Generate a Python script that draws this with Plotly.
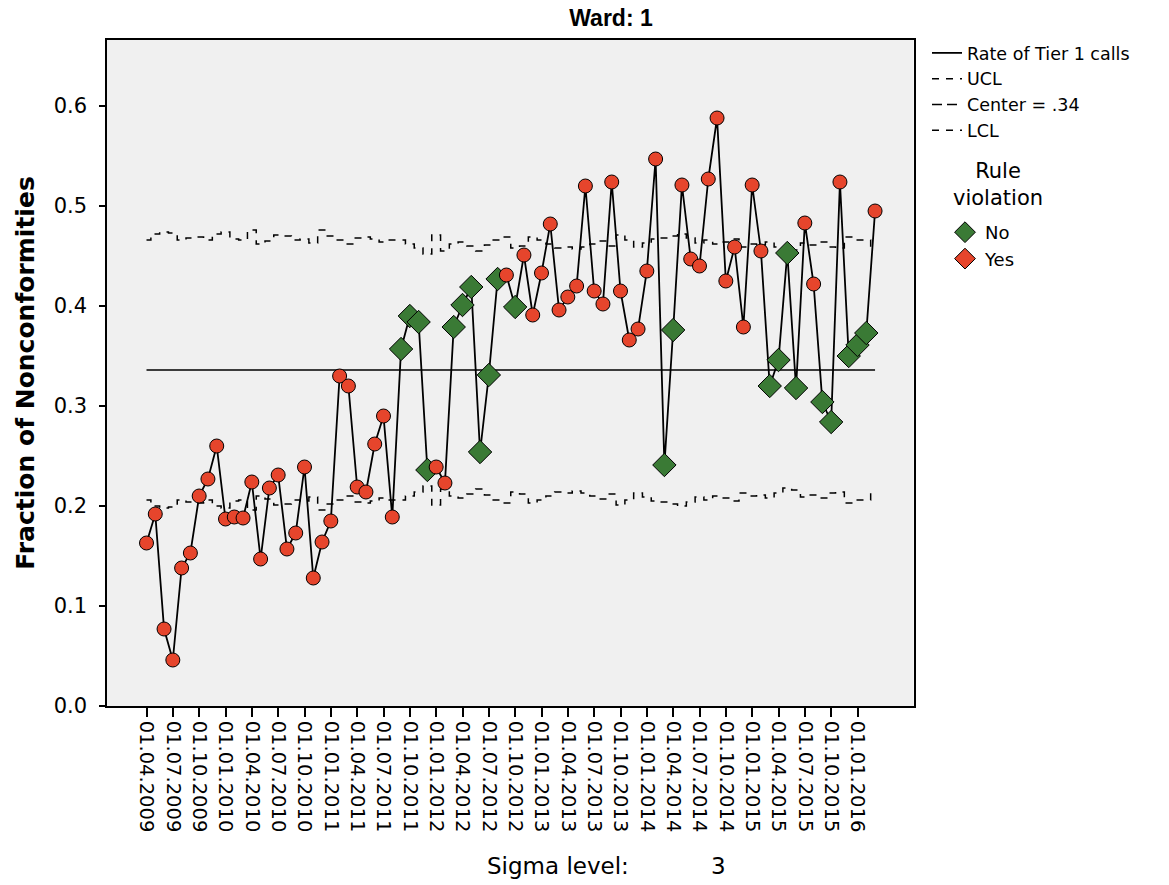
import plotly.graph_objects as go

# ---- data ----
months = []
for yr in range(2009, 2017):
    for mo in range(1, 13):
        months.append(f"01.{mo:02d}.{yr}")
dates = months[3:3 + 84]  # 01.04.2009 .. 01.03.2016

rate = [0.163, 0.192, 0.077, 0.046, 0.138, 0.153, 0.210, 0.227, 0.260, 0.187,
        0.189, 0.188, 0.224, 0.147, 0.218, 0.231, 0.157, 0.173, 0.239, 0.128,
        0.164, 0.185, 0.330, 0.320, 0.219, 0.214, 0.262, 0.290, 0.189, 0.357,
        0.390, 0.384, 0.236, 0.239, 0.223, 0.379, 0.401, 0.419, 0.254, 0.331,
        0.427, 0.431, 0.399, 0.451, 0.391, 0.433, 0.482, 0.396, 0.409, 0.420,
        0.520, 0.415, 0.402, 0.524, 0.415, 0.366, 0.377, 0.435, 0.547, 0.241,
        0.376, 0.521, 0.447, 0.440, 0.527, 0.588, 0.425, 0.459, 0.379, 0.521,
        0.455, 0.320, 0.346, 0.453, 0.318, 0.483, 0.422, 0.304, 0.284, 0.524,
        0.350, 0.361, 0.373, 0.495]

violation = (["Yes"] * 29
             + ["No", "No", "No", "No", "Yes", "Yes", "No", "No", "No", "No",
                "No", "No", "Yes", "No", "Yes", "Yes"]
             + ["Yes"] * 14
             + ["No", "No"]
             + ["Yes"] * 10
             + ["No", "No", "No", "No", "Yes", "Yes", "No", "No", "Yes",
                "No", "No", "No", "Yes"])

ucl = [0.466, 0.472, 0.474, 0.473, 0.466, 0.468, 0.469, 0.466, 0.472, 0.474,
       0.467, 0.466, 0.476, 0.462, 0.465, 0.471, 0.470, 0.466, 0.467, 0.463,
       0.476, 0.470, 0.466, 0.462, 0.468, 0.469, 0.467, 0.464, 0.466, 0.466,
       0.462, 0.458, 0.452, 0.471, 0.455, 0.462, 0.464, 0.460, 0.455, 0.461,
       0.466, 0.469, 0.458, 0.460, 0.469, 0.466, 0.462, 0.458, 0.459, 0.457,
       0.459, 0.462, 0.465, 0.460, 0.471, 0.466, 0.459, 0.463, 0.467, 0.468,
       0.470, 0.472, 0.468, 0.463, 0.466, 0.462, 0.464, 0.467, 0.459, 0.462,
       0.461, 0.464, 0.459, 0.454, 0.456, 0.463, 0.461, 0.464, 0.459, 0.458,
       0.469, 0.466, 0.466, 0.459]

lcl = [0.206, 0.200, 0.198, 0.199, 0.206, 0.204, 0.203, 0.206, 0.200, 0.198,
       0.205, 0.206, 0.196, 0.210, 0.207, 0.201, 0.202, 0.206, 0.205, 0.209,
       0.196, 0.202, 0.206, 0.210, 0.204, 0.203, 0.205, 0.208, 0.206, 0.206,
       0.210, 0.214, 0.220, 0.201, 0.217, 0.210, 0.208, 0.212, 0.217, 0.211,
       0.206, 0.203, 0.214, 0.212, 0.203, 0.206, 0.210, 0.214, 0.213, 0.215,
       0.213, 0.210, 0.207, 0.212, 0.201, 0.206, 0.213, 0.209, 0.205, 0.204,
       0.202, 0.200, 0.204, 0.209, 0.206, 0.210, 0.208, 0.205, 0.213, 0.210,
       0.211, 0.208, 0.213, 0.218, 0.216, 0.209, 0.211, 0.208, 0.213, 0.214,
       0.203, 0.206, 0.206, 0.213]

center = 0.336
center_label = "Center = .34"
tick_labels = dates[0::3]
y_ticks = [0.0, 0.1, 0.2, 0.3, 0.4, 0.5, 0.6]

RED = "#e6452c"
GREEN = "#3a7a35"
FONT = "DejaVu Sans"

fig = go.Figure()

# control limits (step lines)
fig.add_trace(go.Scatter(x=dates, y=ucl, mode="lines", name="UCL",
                         line=dict(color="black", width=1.5, dash="7px,7px", shape="hvh"),
                         legendrank=2, legend="legend", hoverinfo="skip"))
fig.add_trace(go.Scatter(x=dates, y=lcl, mode="lines", name="LCL",
                         line=dict(color="black", width=1.5, dash="7px,7px", shape="hvh"),
                         legendrank=4, legend="legend", hoverinfo="skip"))
# center line
fig.add_trace(go.Scatter(x=[dates[0], dates[-1]], y=[center, center], mode="lines",
                         line=dict(color="black", width=1.5), showlegend=False))
fig.add_trace(go.Scatter(x=[None], y=[None], mode="lines", name=center_label,
                         line=dict(color="black", width=1.5, dash="10px,5px"),
                         legendrank=3, legend="legend"))
# data line
fig.add_trace(go.Scatter(x=dates, y=rate, mode="lines", name="Rate of Tier 1 calls",
                         line=dict(color="black", width=1.8),
                         legendrank=1, legend="legend"))

# markers
xs_no = [d for d, v in zip(dates, violation) if v == "No"]
ys_no = [r for r, v in zip(rate, violation) if v == "No"]
xs_yes = [d for d, v in zip(dates, violation) if v == "Yes"]
ys_yes = [r for r, v in zip(rate, violation) if v == "Yes"]

fig.add_trace(go.Scatter(x=xs_no, y=ys_no, mode="markers", showlegend=False,
                         marker=dict(symbol="diamond", size=18, color=GREEN,
                                     line=dict(color="black", width=1))))
fig.add_trace(go.Scatter(x=xs_yes, y=ys_yes, mode="markers", showlegend=False,
                         marker=dict(symbol="circle", size=14, color=RED,
                                     line=dict(color="black", width=1))))
# legend entries for rule violation
fig.add_trace(go.Scatter(x=[None], y=[None], mode="markers", name="No", legend="legend2",
                         marker=dict(symbol="diamond", size=16, color=GREEN,
                                     line=dict(color="black", width=1))))
fig.add_trace(go.Scatter(x=[None], y=[None], mode="markers", name="Yes", legend="legend2",
                         marker=dict(symbol="diamond", size=16, color=RED,
                                     line=dict(color="black", width=1))))

W, H = 1169, 885
L, R, T, B = 107, 918, 40, 706

fig.update_layout(
    width=W, height=H,
    margin=dict(l=L, r=W - R, t=T, b=H - B),
    paper_bgcolor="white",
    plot_bgcolor="#f0f0f0",
    font=dict(family=FONT, color="black", size=19),
    title=dict(text="<b>Ward: 1</b>", x=611 / W, xref="container", xanchor="center",
               y=1 - 18 / H, yref="container", yanchor="middle",
               font=dict(family="Liberation Sans", size=23)),
    xaxis=dict(type="category", categoryorder="array", categoryarray=dates,
               range=[-4.5, 87.38], tickmode="array", tickvals=tick_labels,
               ticktext=tick_labels, tickangle=90, ticks="outside", ticklen=9,
               tickwidth=1.5, tickcolor="black", showline=True, linecolor="black",
               linewidth=1.5, mirror=True, showgrid=False, zeroline=False,
               tickfont=dict(family=FONT, size=19.5)),
    yaxis=dict(range=[0, 0.666], tickmode="array", tickvals=y_ticks, tickformat=".1f",
               ticks="outside", ticklen=6, tickwidth=1.5, tickcolor="black",
               showline=True, linecolor="black", linewidth=1.5, mirror=True,
               showgrid=False, zeroline=False, ticklabelstandoff=8,
               tickfont=dict(family=FONT, size=21),
               title=dict(text="<b>Fraction of Nonconformities</b>", standoff=12,
                          font=dict(family=FONT, size=25))),
    legend=dict(x=927 / W, xref="container", xanchor="left",
                y=1 - 35 / H, yref="container", yanchor="top",
                bgcolor="rgba(0,0,0,0)", font=dict(family=FONT, size=17.5),
                tracegroupgap=0, itemwidth=30),
    legend2=dict(x=945 / W, xref="container", xanchor="left",
                 y=1 - 214 / H, yref="container", yanchor="top",
                 bgcolor="rgba(0,0,0,0)", font=dict(family=FONT, size=18),
                 itemwidth=30),
    annotations=[
        dict(text="Rule<br>violation", x=(1003 - L) / (R - L), y=(B - 184) / (B - T),
             xref="paper", yref="paper", xanchor="center", yanchor="middle",
             align="center", showarrow=False, font=dict(family=FONT, size=21)),
        dict(text="Sigma level:", x=(487 - L) / (R - L), y=(B - 866) / (B - T),
             xref="paper", yref="paper", xanchor="left", yanchor="middle",
             showarrow=False, font=dict(family=FONT, size=23)),
        dict(text="3", x=(722 - L) / (R - L), y=(B - 866) / (B - T),
             xref="paper", yref="paper", xanchor="center", yanchor="middle",
             showarrow=False, font=dict(family=FONT, size=23)),
    ],
)

fig.write_html("out.html")
